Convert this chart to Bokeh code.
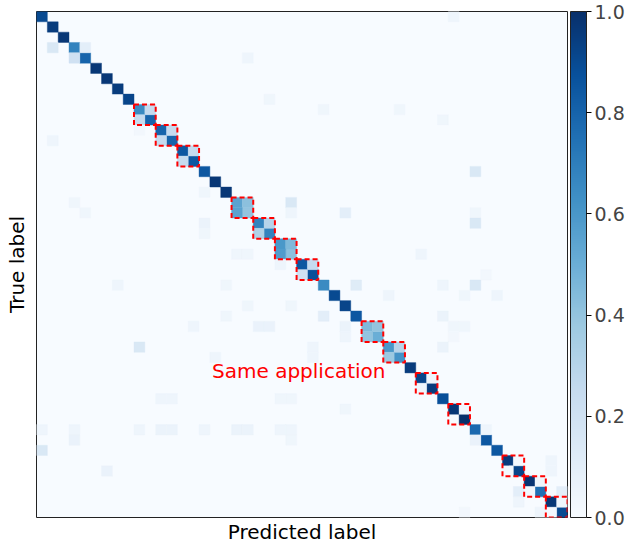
import numpy as np
from bokeh.plotting import figure
from bokeh.models import (Range1d, LinearColorMapper, ColorBar, FixedTicker,
                          PrintfTickFormatter, ColumnDataSource, Label, Title)
from bokeh.transform import linear_cmap
from bokeh.embed import file_html
from bokeh.resources import INLINE

N_CLASSES = 49

# diagonal (correct-prediction) rates, one per class
diag_vals = [0.90, 0.95, 0.97, 0.68, 0.80, 0.97, 0.97, 0.95, 0.92, 0.65,
             0.80, 0.80, 0.80, 0.85, 0.85, 0.85, 0.97, 0.97, 0.55, 0.40,
             0.68, 0.68, 0.60, 0.42, 0.85, 0.88, 0.65, 0.90, 0.92, 0.85,
             0.45, 0.50, 0.60, 0.62, 0.95, 0.92, 0.95, 0.88, 0.97, 1.00,
             0.78, 0.85, 0.85, 0.95, 0.92, 0.98, 0.75, 0.97, 0.90]

# first class of each "same application" pair (red dashed boxes)
block_starts = [9, 11, 13, 18, 20, 22, 24, 30, 32, 35, 38, 43, 45, 47]

# off-diagonal confusions: true row, predicted column, rate
off_rows = [9, 10, 11, 12, 13, 14, 18, 19, 20, 21, 22, 23, 24, 25, 30, 31, 32, 33,
            35, 36, 38, 43, 44, 45, 46, 47, 48,
            3, 3, 4,
            0, 4, 8, 9, 9, 10, 11, 12, 15, 17, 18, 18, 19, 19, 19, 19, 20, 20, 21,
            23, 23, 23, 24, 25, 26, 26, 26, 26, 26, 27, 27, 27, 28, 28, 29, 29, 29,
            30, 30, 30, 30, 30, 30, 31, 31, 32, 32, 32, 33, 33, 37, 37, 37, 37, 38,
            40, 40, 40, 40, 40, 40, 40, 40, 40, 40, 40, 41, 41, 41, 42, 43, 44, 44,
            46, 46, 47, 48, 48]
off_cols = [10, 9, 12, 11, 14, 13, 19, 18, 21, 20, 23, 22, 25, 24, 31, 30, 33, 32,
            36, 35, 39, 44, 43, 46, 45, 48, 47,
            1, 4, 3,
            38, 19, 21, 26, 33, 37, 9, 1, 40, 15, 3, 23, 4, 23, 28, 40, 15, 40, 15,
            18, 19, 35, 22, 41, 7, 17, 29, 37, 40, 32, 39, 42, 19, 23, 17, 26, 37,
            14, 20, 21, 28, 38, 39, 28, 38, 9, 25, 37, 16, 25, 11, 12, 22, 23, 28,
            0, 3, 9, 11, 12, 15, 18, 19, 22, 23, 41, 3, 23, 40, 0, 47, 6, 47,
            44, 48, 44, 39, 46]
off_vals = [0.25, 0.25, 0.25, 0.25, 0.25, 0.25, 0.42, 0.55, 0.30, 0.32, 0.45, 0.58,
            0.25, 0.20, 0.40, 0.40, 0.30, 0.38, 0.05, 0.05, 0.03, 0.02, 0.02, 0.04,
            0.03, 0.04, 0.02,
            0.15, 0.10, 0.20,
            0.05, 0.05, 0.04, 0.04, 0.04, 0.04, 0.03, 0.05, 0.15, 0.04, 0.04, 0.15,
            0.04, 0.05, 0.10, 0.04, 0.06, 0.15, 0.04, 0.04, 0.04, 0.05, 0.05, 0.03,
            0.05, 0.04, 0.12, 0.05, 0.15, 0.05, 0.04, 0.05, 0.04, 0.04, 0.04, 0.10,
            0.06, 0.05, 0.07, 0.07, 0.06, 0.04, 0.04, 0.05, 0.03, 0.15, 0.05, 0.06,
            0.05, 0.05, 0.05, 0.05, 0.04, 0.04, 0.04, 0.05, 0.05, 0.05, 0.06, 0.06,
            0.05, 0.06, 0.06, 0.05, 0.05, 0.05, 0.07, 0.04, 0.07, 0.15, 0.05, 0.07,
            0.05, 0.10, 0.10, 0.05, 0.03, 0.05]

cbar_ticks = [0.0, 0.2, 0.4, 0.6, 0.8, 1.0]
x_title = "Predicted label"
y_title = "True label"
note_text = "Same application"
note_x, note_y = 24.2, 34.8

# layout (pixels)
W, H = 626, 543
LEFT, RIGHT, TOP, BOTTOM = 36, 59, 11, 26
FRAME_W = W - LEFT - RIGHT
FRAME_H = H - TOP - BOTTOM

# Blues colormap (light -> dark), interpolated from the 9 ColorBrewer anchors
anchors = ['#f7fbff', '#deebf7', '#c6dbef', '#9ecae1', '#6baed6',
           '#4292c6', '#2171b5', '#08519c', '#08306b']
rgb = np.array([[int(c[i:i + 2], 16) for i in (1, 3, 5)] for c in anchors], float)
pos = np.linspace(0, 1, len(anchors))
t = np.linspace(0, 1, 256)
pal = ['#%02x%02x%02x' % tuple(int(round(np.interp(tt, pos, rgb[:, k]))) for k in range(3))
       for tt in t]

# build cell table
cell_x, cell_y, cell_v = [], [], []
for i, v in enumerate(diag_vals):
    cell_x.append(i + 0.5); cell_y.append(i + 0.5); cell_v.append(v)
for r, c, v in zip(off_rows, off_cols, off_vals):
    cell_x.append(c + 0.5); cell_y.append(r + 0.5); cell_v.append(v)
src = ColumnDataSource(dict(x=cell_x, y=cell_y, v=cell_v))

p = figure(width=W, height=H, output_backend="svg", toolbar_location=None,
           x_range=Range1d(0, N_CLASSES), y_range=Range1d(N_CLASSES, 0),
           x_axis_location=None,
           min_border_left=LEFT, min_border_top=TOP, min_border_bottom=BOTTOM,
           min_border_right=RIGHT)
p.background_fill_color = pal[0]
p.border_fill_color = "white"
p.grid.visible = False
p.outline_line_color = "#222222"
p.outline_line_width = 1

p.rect(x="x", y="y", width=1, height=1, source=src,
       fill_color=linear_cmap("v", pal, 0, 1),
       line_color=linear_cmap("v", pal, 0, 1), line_width=0.4)

bx = [b + 1 for b in block_starts]
p.rect(x=bx, y=bx, width=2, height=2, fill_alpha=0, line_color="red",
       line_width=2, line_dash="5 3")

p.add_layout(Label(x=note_x, y=note_y, text=note_text, text_align="center",
                   text_baseline="middle", text_color="red",
                   text_font_size="20px", text_font="DejaVu Sans"))

# x-axis title below the frame
p.add_layout(Title(text=x_title, align="center", standoff=0,
                   text_font_size="20px", text_font="DejaVu Sans",
                   text_font_style="normal", text_color="black"), "below")

ax = p.yaxis[0]
ax.ticker = FixedTicker(ticks=[])
ax.axis_line_color = None
ax.major_tick_line_color = None
ax.minor_tick_line_color = None
ax.major_tick_out = 0
ax.major_label_standoff = 0
ax.axis_label = y_title
ax.axis_label_standoff = 8
ax.axis_label_text_font = "DejaVu Sans"
ax.axis_label_text_font_size = "20px"
ax.axis_label_text_font_style = "normal"
ax.axis_label_text_color = "black"

mapper = LinearColorMapper(palette=pal, low=0, high=1)
cb = ColorBar(color_mapper=mapper, ticker=FixedTicker(ticks=cbar_ticks),
              formatter=PrintfTickFormatter(format="%.1f"),
              major_label_text_font_size="19px",
              major_label_text_font="DejaVu Sans",
              width=16, height=FRAME_H, padding=0,
              location=(FRAME_W + 3, 0),
              bar_line_color="#222222",
              major_tick_out=5, major_tick_in=0, major_tick_line_color="black",
              label_standoff=3, background_fill_color=None)
p.add_layout(cb, "center")

open("out.html", "w").write(file_html(p, INLINE))
